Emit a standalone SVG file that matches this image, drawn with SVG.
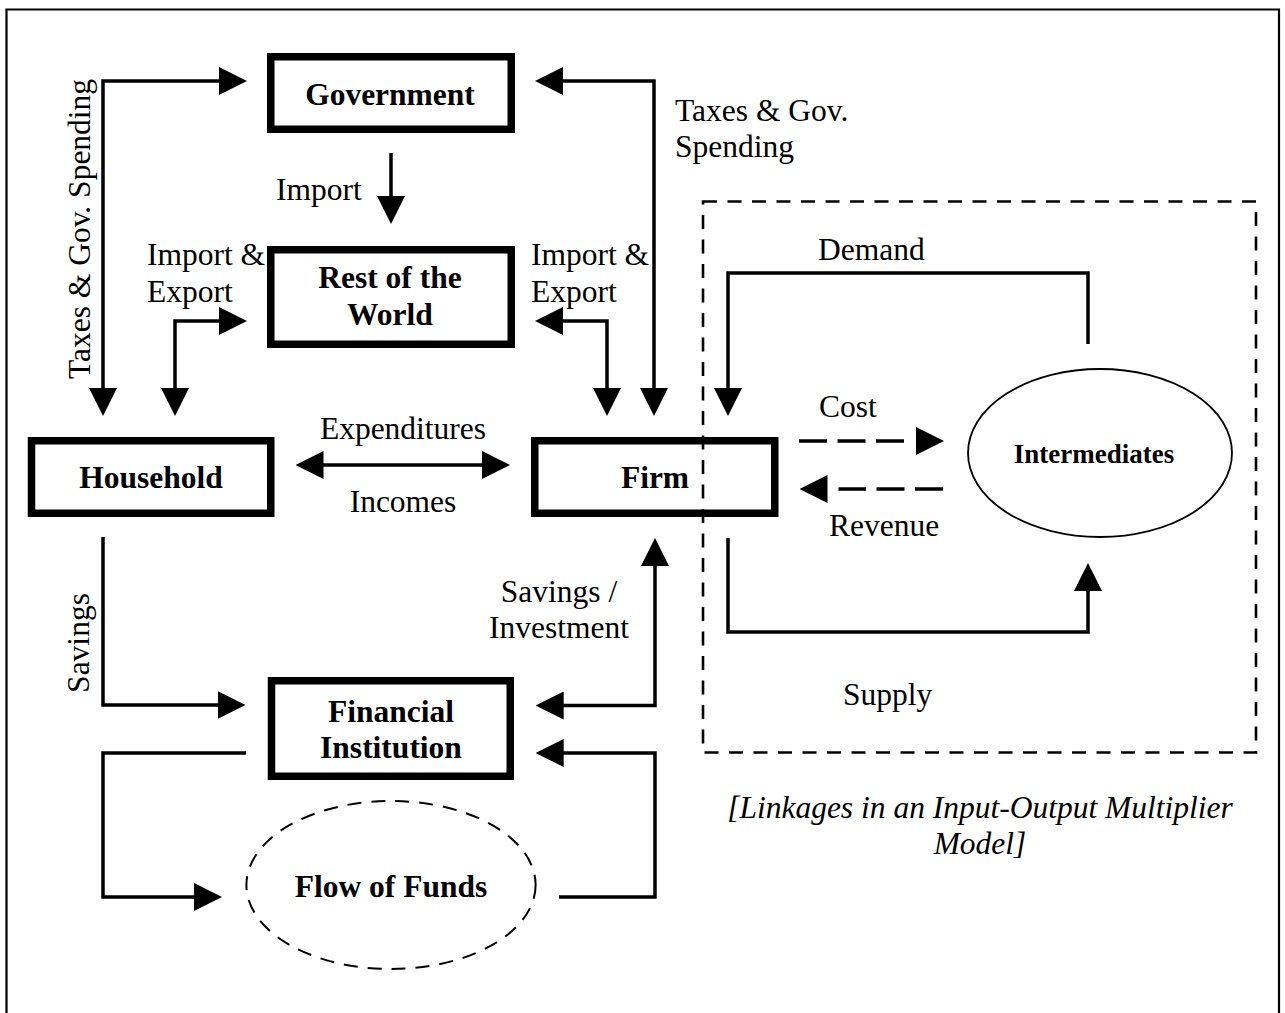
<svg xmlns="http://www.w3.org/2000/svg" width="1285" height="1013" viewBox="0 0 1285 1013">
<style>
.conn{fill:none;stroke:#000;stroke-width:3.5;stroke-linejoin:miter}
.dash{stroke-dasharray:28 10.5}
.box{fill:none;stroke:#000;stroke-width:7.5}
.t{font-family:"Liberation Serif","Times New Roman",serif;font-size:31.5px;fill:#000}
.b{font-weight:bold}
.c{text-anchor:middle}
.i{font-style:italic}
</style>
<defs>
<marker id="ah" viewBox="0 0 28 28" markerWidth="28" markerHeight="28" markerUnits="userSpaceOnUse" refX="14" refY="14" orient="auto-start-reverse"><path d="M0,0 L28,14 L0,28 Z" fill="#000"/></marker>
<marker id="ahg" viewBox="-12 0 40 28" markerWidth="40" markerHeight="28" markerUnits="userSpaceOnUse" refX="-11" refY="14" orient="auto"><path d="M0,0 L28,14 L0,28 Z" fill="#000"/></marker>
</defs>
<rect width="1285" height="1013" fill="#fff"/>
<path d="M6.5,1020 V9.5 H1279 V1020" fill="none" stroke="#000" stroke-width="2.2"/>

<g id="government"><rect class="box" x="270.75" y="56.75" width="240.5" height="72.5"/><text class="t b c" x="390" y="105">Government</text></g>
<g id="rest-of-world"><rect class="box" x="270.75" y="249.75" width="240.5" height="94.5"/><text class="t b c" x="390" y="288">Rest of the</text><text class="t b c" x="390" y="325">World</text></g>
<g id="household"><rect class="box" x="31.5" y="440.75" width="239.25" height="72.5"/><text class="t b c" x="151" y="488">Household</text></g>
<g id="firm"><rect class="box" x="534.75" y="440.75" width="240" height="72.5"/><text class="t b c" x="655" y="488">Firm</text></g>
<g id="financial-institution"><rect class="box" x="271.5" y="680.75" width="238.75" height="95.5"/><text class="t b c" x="391" y="722">Financial</text><text class="t b c" x="391" y="758">Institution</text></g>
<g id="flow-of-funds"><ellipse cx="391" cy="885" rx="144.6" ry="84" fill="none" stroke="#000" stroke-width="2" stroke-dasharray="14 10"/><text class="t b c" x="391" y="897">Flow of Funds</text></g>
<g id="intermediates"><ellipse cx="1100" cy="453" rx="132" ry="84" fill="none" stroke="#000" stroke-width="1.8"/><text class="t b c" x="1094" y="463" style="font-size:27px">Intermediates</text></g>
<g id="io-model"><rect x="703" y="201.5" width="553" height="551" fill="none" stroke="#000" stroke-width="2.6" stroke-dasharray="14 10.5"/></g>

<g id="connectors">
<path class="conn" d="M103,402 V81 H233" marker-start="url(#ah)" marker-end="url(#ah)"/>
<path class="conn" d="M549,81 H654 V402" marker-start="url(#ah)" marker-end="url(#ah)"/>
<path class="conn" d="M391,153 V210" marker-end="url(#ah)"/>
<path class="conn" d="M175,402 V321 H233" marker-start="url(#ah)" marker-end="url(#ah)"/>
<path class="conn" d="M549,321 H607 V402" marker-start="url(#ah)" marker-end="url(#ah)"/>
<path class="conn" d="M309.5,465 H496" marker-start="url(#ah)" marker-end="url(#ah)"/>
<path class="conn" d="M103,537 V705 H231.5" marker-end="url(#ah)"/>
<path class="conn" d="M549.7,705.5 H655 V552" marker-start="url(#ah)" marker-end="url(#ah)"/>
<path class="conn" d="M246,753 H103 V897 H208" marker-end="url(#ah)"/>
<path class="conn" d="M559,897 H655 V753 H549.7" marker-end="url(#ah)"/>
<path class="conn" d="M1088,344 V273 H728 V402" marker-end="url(#ah)"/>
<path class="conn" d="M728,538 V632 H1088 V577" marker-end="url(#ah)"/>
<path class="conn dash" d="M799,441 H905" marker-end="url(#ahg)"/>
<path class="conn dash" d="M943,489 H838.5" marker-end="url(#ahg)"/>
</g>

<g id="labels">
<text class="t" transform="translate(90,229) rotate(-90)" text-anchor="middle">Taxes &amp; Gov. Spending</text>
<text class="t" transform="translate(89,643) rotate(-90)" text-anchor="middle">Savings</text>
<text class="t" x="276" y="200">Import</text>
<text class="t" x="147" y="265">Import &amp;</text>
<text class="t" x="147" y="302">Export</text>
<text class="t" x="531" y="265">Import &amp;</text>
<text class="t" x="531" y="302">Export</text>
<text class="t" x="675" y="121">Taxes &amp; Gov.</text>
<text class="t" x="675" y="157">Spending</text>
<text class="t" x="818" y="260">Demand</text>
<text class="t c" x="403" y="439">Expenditures</text>
<text class="t c" x="403" y="512">Incomes</text>
<text class="t" x="819" y="417">Cost</text>
<text class="t" x="829" y="536">Revenue</text>
<text class="t c" x="559" y="602">Savings /</text>
<text class="t c" x="559" y="638">Investment</text>
<text class="t" x="843" y="705">Supply</text>
<text class="t i c" x="980" y="818">[Linkages in an Input-Output Multiplier</text>
<text class="t i c" x="980" y="854">Model]</text>
</g>
</svg>
